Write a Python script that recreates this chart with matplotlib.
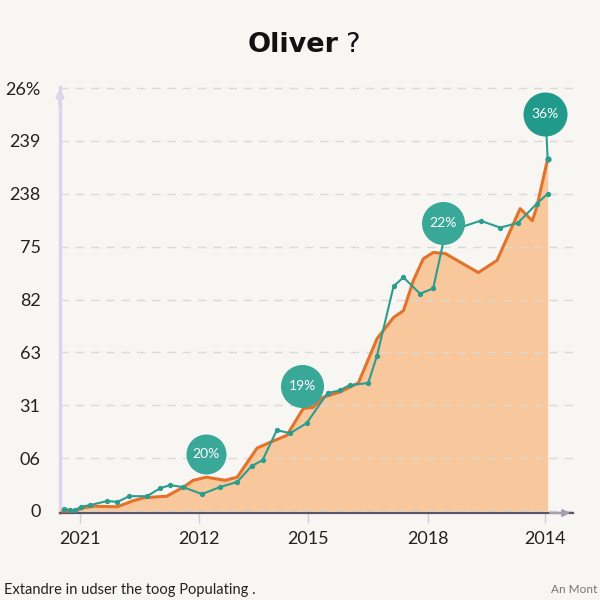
import matplotlib
matplotlib.use("Agg")
import matplotlib.pyplot as plt

# ---- data ----
x_ticks = [0, 1.08, 2.07, 3.16, 4.23]
x_labels = ["2021", "2012", "2015", "2018", "2014"]
y_ticks = [0, 1, 2, 3, 4, 5, 6, 7, 8]
y_labels = ["0", "06", "31", "63", "82", "75", "238", "239", "26%"]

orange_x = [-0.155, -0.04, 0.03, 0.13, 0.34, 0.48, 0.58, 0.79, 0.94, 1.03, 1.15,
            1.32, 1.43, 1.61, 1.73, 1.88, 2.03, 2.12, 2.21, 2.36, 2.45, 2.53, 2.70,
            2.85, 2.94, 3.03, 3.12, 3.21, 3.32, 3.62, 3.79, 4.00, 4.11, 4.15, 4.25]
orange_y = [0.0, 0.0, 0.06, 0.09, 0.08, 0.19, 0.25, 0.28, 0.45, 0.58, 0.64,
            0.58, 0.64, 1.19, 1.30, 1.43, 1.94, 1.96, 2.15, 2.25, 2.34, 2.42, 3.26,
            3.66, 3.79, 4.36, 4.77, 4.89, 4.87, 4.51, 4.74, 5.72, 5.49, 5.74, 6.66]

teal_x = [-0.14, -0.09, -0.04, 0.01, 0.09, 0.25, 0.34, 0.45, 0.61, 0.73, 0.82, 0.94,
          1.11, 1.27, 1.43, 1.56, 1.66, 1.79, 1.91, 2.06, 2.25, 2.36, 2.45,
          2.62, 2.70, 2.85, 2.94, 3.09, 3.21, 3.32, 3.45, 3.64, 3.82, 3.98, 4.15, 4.25]
teal_y = [0.04, 0.02, 0.02, 0.08, 0.11, 0.19, 0.17, 0.28, 0.28, 0.43, 0.49, 0.45,
          0.32, 0.45, 0.55, 0.85, 0.96, 1.53, 1.47, 1.66, 2.23, 2.28, 2.38,
          2.42, 2.94, 4.25, 4.42, 4.11, 4.21, 5.26, 5.36, 5.49, 5.36, 5.45, 5.81, 6.00]

bubble_labels = ["20%", "19%", "22%", "36%"]
bubble_x = [1.15, 2.02, 3.30, 4.23]
bubble_y = [1.08, 2.36, 5.45, 7.51]

# ---- styling ----
BG = "#f7f6f2"
ORANGE = "#e2722c"
FILL = "#f8c79b"
TEAL = "#2a9d8f"
BUB = "#3aa899"
BUB_DARK = "#1f9a8b"

fig = plt.figure(figsize=(6, 6), dpi=100, facecolor=BG)
ax = fig.add_axes([0.1, 0.145, 0.855, 0.71], facecolor=BG)

ax.set_xlim(-0.18, 4.48)
ax.set_ylim(-0.038, 8.02)

ax.fill_between(orange_x, orange_y, 0, color=FILL, lw=0, zorder=1)
ax.plot(orange_x, orange_y, color=ORANGE, lw=2.2, zorder=3, solid_joinstyle="round")
ax.plot(teal_x, teal_y, color=TEAL, lw=1.5, marker="o", ms=2.8, zorder=4)

# stem for top bubble to the orange peak
ax.plot([bubble_x[3], orange_x[-1]], [bubble_y[3], orange_y[-1]], color=TEAL, lw=1.5, zorder=5)
ax.plot([orange_x[-1]], [orange_y[-1]], "o", color=TEAL, ms=3.5, zorder=6)

sizes = [830, 960, 960, 1004]
cols = [BUB, BUB, BUB, BUB_DARK]
for lab, bx, by, s, c in zip(bubble_labels, bubble_x, bubble_y, sizes, cols):
    ax.scatter([bx], [by], s=s, color=c, zorder=7, linewidths=0)
    ax.text(bx, by, lab, color="white", ha="center", va="center", fontsize=10,
            family="Lato", zorder=8)

# grid and ticks
ax.set_yticks(y_ticks)
ax.set_yticklabels(y_labels, fontsize=13, family="Lato", color="#222222")
ax.set_xticks(x_ticks)
ax.set_xticklabels(x_labels, fontsize=13, family="Lato", color="#222222")
ax.yaxis.grid(True, color="#d9d9d9", ls=(0, (6, 5)), lw=1.0, zorder=0)
ax.tick_params(axis="y", length=0, pad=14)
ax.tick_params(axis="x", length=7, width=1, color="#cfcfcf", direction="out", pad=6)

for side in ["top", "right"]:
    ax.spines[side].set_visible(False)
ax.spines["left"].set_color("#dcd4ea")
ax.spines["left"].set_linewidth(2.5)
ax.spines["bottom"].set_color("#5d5466")
ax.spines["bottom"].set_linewidth(1.6)

# axis arrows
ax.annotate("", xy=(0, 1.003), xytext=(0, 0.95), xycoords="axes fraction",
            arrowprops=dict(arrowstyle="-|>", color="#dcd4ea", lw=2.5, mutation_scale=10),
            annotation_clip=False)
ax.annotate("", xy=(1.0, 0.0), xytext=(0.95, 0.0), xycoords="axes fraction",
            arrowprops=dict(arrowstyle="-|>", color="#a79fb0", lw=1.6, mutation_scale=10),
            annotation_clip=False)

# titles / notes
fig.text(0.564, 0.913, "Oliver", ha="right", va="baseline", fontsize=19.5,
         fontweight="bold", family="DejaVu Sans", color="#111111")
fig.text(0.576, 0.913, "?", ha="left", va="baseline", fontsize=19.5,
         family="DejaVu Sans", color="#111111")
fig.text(0.007, 0.017, "Extandre in udser the toog Populating .", ha="left", va="center",
         fontsize=10.5, family="Lato", color="#222222")
fig.text(0.995, 0.017, "An Mont", ha="right", va="center", fontsize=8.5,
         family="Lato", color="#777777")

fig.savefig("out.png", dpi=100, facecolor=BG)
